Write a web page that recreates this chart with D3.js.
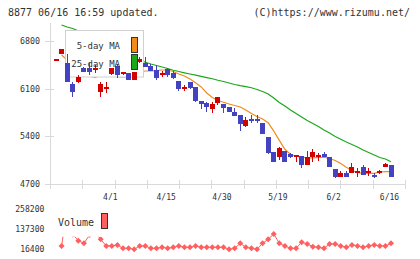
<!DOCTYPE html>
<html><head><meta charset="utf-8">
<script src="https://cdn.jsdelivr.net/npm/d3@7/dist/d3.min.js"></script>
<style>html,body{margin:0;padding:0;background:#fff;}svg{display:block;}</style>
</head><body>
<script>
const dates = ["3/17","3/18","3/19","3/21","3/24","3/25","3/26","3/27","3/28","3/31",
"4/1","4/2","4/3","4/4","4/7","4/8","4/9","4/10","4/11","4/14",
"4/15","4/16","4/17","4/18","4/21","4/22","4/23","4/24","4/25","4/28",
"4/30","5/1","5/2","5/7","5/8","5/9","5/12","5/13","5/14","5/15",
"5/19","5/20","5/21","5/22","5/23","5/26","5/27","5/28","5/29","5/30",
"6/2","6/3","6/4","6/5","6/6","6/9","6/10","6/11","6/12","6/13","6/16"];
const open  = [6520,6603,6480,6163,6201,6407,6400,6380,6046,6110,6310,6436,6314,6325,6226,6495,6480,6432,6373,6310,6383,6333,6212,6110,6193,6119,5918,5893,5801,5884,5874,5826,5752,5713,5551,5650,5650,5600,5394,5174,5101,5184,5140,5105,5111,4979,5101,5105,5140,5092,4916,4807,4857,4866,4875,4945,4875,4832,4857,4954,4979];
const high  = [6520,6681,6603,6201,6300,6420,6476,6446,6193,6201,6407,6457,6340,6330,6350,6559,6559,6461,6446,6363,6407,6358,6212,6153,6193,6119,5918,5908,5908,5981,5874,5826,5811,5713,5679,5713,5713,5600,5394,5174,5247,5184,5159,5126,5111,5189,5209,5159,5165,5092,4916,4891,4891,5004,4939,4974,4939,4857,4905,5013,4979];
const low   = [6520,6603,6201,5981,6178,6340,6300,6325,5981,6031,6300,6260,6300,6220,6220,6471,6421,6363,6226,6266,6275,6237,6069,6065,6090,5899,5801,5761,5746,5859,5746,5761,5698,5482,5541,5600,5590,5434,5140,5027,5052,5027,5077,5027,4930,4979,5027,5042,5092,4954,4792,4798,4798,4857,4807,4832,4817,4792,4842,4950,4807];
const close = [6520,6681,6201,6055,6275,6348,6350,6390,6168,6120,6398,6300,6333,6226,6348,6535,6421,6363,6260,6320,6300,6260,6090,6120,6104,5923,5874,5834,5874,5972,5820,5761,5698,5581,5639,5620,5625,5434,5159,5027,5224,5027,5101,5115,4979,5092,5174,5115,5092,4954,4807,4866,4807,4945,4885,4832,4885,4807,4881,4989,4807];
const ma5  = [null,6593,6520,6432,6358,6314,6285,6263,6300,6277,6285,6277,6270,6277,6322,6344,6358,6358,6365,6373,6373,6351,6314,6285,6241,6187,6124,6035,5970,5925,5899,5874,5852,5830,5786,5735,5691,5654,5600,5477,5340,5210,5133,5111,5092,5082,5082,5089,5092,5074,5045,5000,4945,4898,4869,4857,4857,4857,4876,4881,4881];
const ma25 = [null,7034,7004,6982,6945,6901,6857,6813,6769,6725,6681,6637,6608,6579,6549,6520,6486,6461,6439,6417,6395,6369,6351,6332,6314,6297,6279,6262,6244,6222,6204,6182,6160,6143,6128,6112,6087,6058,6021,5962,5896,5845,5786,5735,5683,5632,5588,5544,5493,5448,5397,5356,5316,5280,5243,5199,5162,5126,5089,5067,5027];
const volume = [null,36400,258200,105000,68200,52400,102000,120000,76400,36400,36400,42400,22400,22400,16400,36400,36400,22400,22400,28400,22400,28400,36400,28400,28400,36400,28400,28400,28400,28400,28400,16400,22400,52400,28400,22400,16400,52400,76400,108400,52400,36400,22400,22400,58400,48400,32400,28400,22400,48400,48400,36400,28400,42400,36400,28400,36400,42400,36400,36400,52400];
const priceTicks = [4700,5400,6100,6800];
const volTicks = [16400,137300,258200];
const xLabels = ["4/1","4/15","4/30","5/19","6/2","6/16"];
const legendItems = ["5-day MA","25-day MA"];

const W=420,H=259;
const svg=d3.select("body").append("svg").attr("width",W).attr("height",H);
const font="'DejaVu Sans Mono', monospace";
const axisCol="#d9d9d9", txtCol="#333";
const RED="#d40000", BLUE="#4343c2", GREEN="#1aa81a", ORANGE="#f08c1c", VOLC="#ff5f5f";

const x=d3.scaleLinear().domain([0,dates.length-1]).range([56,391]);
const y=d3.scaleLinear().domain([4700,6800]).range([184,40.9]);
const yv=d3.scaleLinear().domain([16400,258200]).range([249.3,209]);
const xt=d3.scaleLinear().domain([0,11]).range([50,405]);

// header
svg.append("text").attr("x",8).attr("y",16).attr("font-family",font).attr("font-size",10).attr("fill",txtCol).text("8877 06/16 16:59 updated.");
svg.append("text").attr("x",410).attr("y",16).attr("text-anchor","end").attr("font-family",font).attr("font-size",10).attr("fill",txtCol).text("(C)https://www.rizumu.net/");

// axes
const ax=svg.append("g").attr("shape-rendering","crispEdges");
ax.append("line").attr("x1",50.5).attr("x2",50.5).attr("y1",23).attr("y2",184).attr("stroke",axisCol);
ax.append("line").attr("x1",50).attr("x2",406).attr("y1",184.5).attr("y2",184.5).attr("stroke",axisCol);
ax.selectAll(".xt").data(d3.range(12)).join("line").attr("x1",d=>Math.round(xt(d))+0.5).attr("x2",d=>Math.round(xt(d))+0.5).attr("y1",180).attr("y2",189).attr("stroke",axisCol);
ax.selectAll(".yt").data(priceTicks).join("line").attr("x1",45).attr("x2",54).attr("y1",d=>Math.round(y(d))+0.5).attr("y2",d=>Math.round(y(d))+0.5).attr("stroke",axisCol);
svg.selectAll(".yl").data(priceTicks).join("text").attr("x",40).attr("y",d=>y(d)+3).attr("text-anchor","end").attr("font-family",font).attr("font-size",8.3).attr("fill",txtCol).text(d=>d);
svg.selectAll(".xl").data(xLabels).join("text").attr("x",d=>x(dates.indexOf(d))-1.5).attr("y",200).attr("text-anchor","middle").attr("font-family",font).attr("font-size",8).attr("fill",txtCol).text(d=>d);

// MA lines
const idx=d3.range(dates.length);
const lineOf=arr=>d3.line().defined(i=>arr[i]!=null).x(i=>x(i)).y(i=>y(arr[i]));
svg.append("path").attr("d",lineOf(ma25)(idx)).attr("fill","none").attr("stroke",GREEN).attr("stroke-width",1.2);
svg.append("path").attr("d",lineOf(ma5)(idx)).attr("fill","none").attr("stroke",ORANGE).attr("stroke-width",1.2);

// legend box (behind candles)
svg.append("rect").attr("x",65.5).attr("y",30.5).attr("width",78).attr("height",46.5).attr("fill","#fff").attr("stroke","#d0d0d0");

// candles
const cg=svg.append("g").attr("shape-rendering","crispEdges");
idx.forEach(i=>{
  const up=close[i]>=open[i];
  const col=up?RED:BLUE;
  const cx=Math.round(x(i)-2.5);
  cg.append("rect").attr("x",cx+2).attr("width",1).attr("y",y(high[i])).attr("height",Math.max(0.01,y(low[i])-y(high[i]))).attr("fill",col);
  let top=y(Math.max(open[i],close[i])), bot=y(Math.min(open[i],close[i]));
  if(bot-top<2){const m=(top+bot)/2; top=m-1; bot=m+1;}
  cg.append("rect").attr("x",cx).attr("width",5).attr("y",top).attr("height",bot-top).attr("fill",col);
});

// legend content
svg.selectAll(".lg").data(legendItems).join("text").attr("x",120).attr("y",(d,i)=>49+i*18).attr("text-anchor","end").attr("font-family",font).attr("font-size",9).attr("fill",txtCol).text(d=>d);
svg.selectAll(".ls").data([ORANGE,GREEN]).join("rect").attr("x",131.5).attr("y",(d,i)=>37.5+i*17).attr("width",6).attr("height",15).attr("fill",d=>d).attr("stroke","#333").attr("shape-rendering","crispEdges");

// volume
const vl=d3.line().defined(i=>volume[i]!=null).x(i=>x(i)).y(i=>yv(volume[i]));
svg.append("path").attr("d",vl(idx)).attr("fill","none").attr("stroke",VOLC).attr("stroke-width",1);
svg.selectAll(".vd").data(idx.filter(i=>volume[i]!=null)).join("path")
  .attr("d",i=>{const cx=x(i),cy=yv(volume[i]),r=3;return `M${cx},${cy-r}L${cx+r},${cy}L${cx},${cy+r}L${cx-r},${cy}Z`;})
  .attr("fill",VOLC);
svg.append("rect").attr("x",52).attr("y",200).attr("width",60).attr("height",36.7).attr("fill","#fff");
svg.append("text").attr("x",58).attr("y",226).attr("font-family",font).attr("font-size",10).attr("fill",txtCol).text("Volume");
svg.append("rect").attr("x",101.5).attr("y",213.5).attr("width",5.5).attr("height",14.5).attr("fill",VOLC).attr("stroke","#333").attr("shape-rendering","crispEdges");
svg.selectAll(".vt").data(volTicks).join("text").attr("x",44.5).attr("y",d=>yv(d)+3).attr("text-anchor","end").attr("font-family",font).attr("font-size",8.1).attr("fill",txtCol).text(d=>d);
</script>
</body></html>
